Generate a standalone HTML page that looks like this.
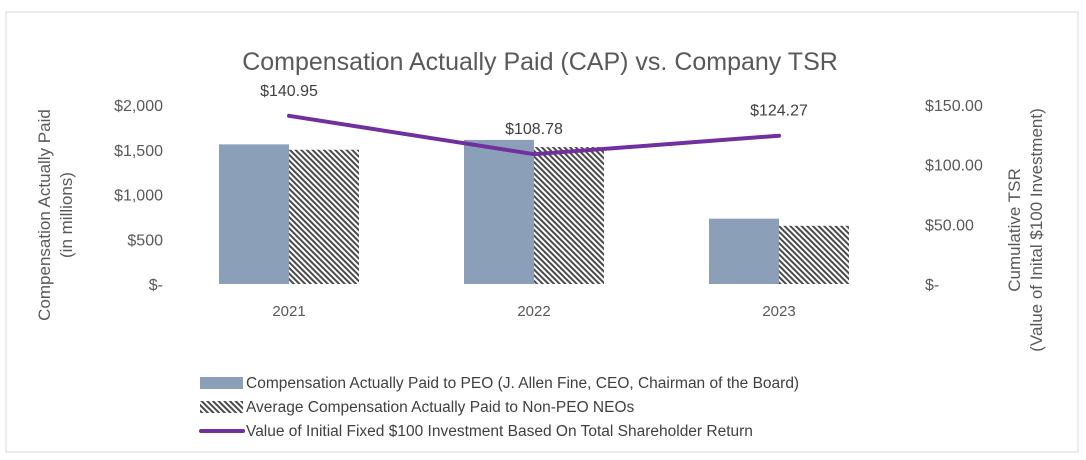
<!DOCTYPE html>
<html><head><meta charset="utf-8"><style>
body{margin:0;background:#fff;}
svg{display:block;font-family:"Liberation Sans",sans-serif;}
</style></head><body>
<svg width="1086" height="460" viewBox="0 0 1086 460">
<defs>
<pattern id="hatch" patternUnits="userSpaceOnUse" width="4" height="4" patternTransform="rotate(45)">
<rect width="4" height="4" fill="#fff"/><rect width="4" height="2" fill="#4a4a4a"/>
</pattern>
</defs>
<rect x="6" y="12" width="1072" height="440" fill="#fff" stroke="#d9d9d9"/>
<text x="540" y="70" text-anchor="middle" font-size="25" fill="#595959">Compensation Actually Paid (CAP) vs. Company TSR</text>
<g id="axes"></g>
<g id="bars"></g>
<g id="line"></g>
<text transform="translate(50,215) rotate(-90)" text-anchor="middle" font-size="17" fill="#595959"><tspan x="0" dy="0">Compensation Actually Paid</tspan><tspan x="0" dy="22">(in millions)</tspan></text>
<text transform="translate(1020,230) rotate(-90)" text-anchor="middle" font-size="17" fill="#595959"><tspan x="0" dy="0">Cumulative TSR</tspan><tspan x="0" dy="22">(Value of Inital $100 Investment)</tspan></text>
<g font-size="15.5" fill="#404040">
<rect x="200" y="377" width="43" height="12" fill="#8c9fb8"/>
<text x="246" y="388">Compensation Actually Paid to PEO (J. Allen Fine, CEO, Chairman of the Board)</text>
<rect x="200" y="401" width="43" height="12" fill="url(#hatch)"/>
<text x="246" y="412">Average Compensation Actually Paid to Non-PEO NEOs</text>
<line x1="201" y1="431" x2="243" y2="431" stroke="#7030a0" stroke-width="4" stroke-linecap="round"/>
<text x="246" y="436">Value of Initial Fixed $100 Investment Based On Total Shareholder Return</text>
</g>
</svg>
<script>
const categories=["2021","2022","2023"];
const peoValues=[1560,1610,730];
const nonPeoValues=[1500,1530,650];
const tsrValues=[140.95,108.78,124.27];
const tsrLabels=["$140.95","$108.78","$124.27"];
const leftTicks=[0,500,1000,1500,2000];
const leftTickLabels=["$-","$500","$1,000","$1,500","$2,000"];
const rightTicks=[0,50,100,150];
const rightTickLabels=["$-","$50.00","$100.00","$150.00"];

const NS="http://www.w3.org/2000/svg";
const y0=284,yTop=105,xL=166.5,xR=901.5;
const yL=v=>y0-(v/2000)*(y0-yTop);
const yR=v=>y0-(v/150)*(y0-yTop);
const band=(xR-xL)/categories.length;
const xC=i=>xL+band*(i+0.5);
const bw=70;
function mk(tag,attrs,parent,text){const e=document.createElementNS(NS,tag);for(const k in attrs)e.setAttribute(k,attrs[k]);if(text!==undefined)e.textContent=text;parent.appendChild(e);return e;}
const axes=document.getElementById('axes'),bars=document.getElementById('bars'),line=document.getElementById('line');
leftTicks.forEach((t,i)=>{const e=mk('text',{x:163,y:yL(t)+6,'text-anchor':'end','font-size':16,fill:'#595959'},axes,leftTickLabels[i]);

});
rightTicks.forEach((t,i)=>{const e=mk('text',{x:925,y:yR(t)+6,'font-size':16,fill:'#595959'},axes,rightTickLabels[i]);

});
categories.forEach((c,i)=>{const e=mk('text',{x:xC(i),y:316,'text-anchor':'middle','font-size':15,fill:'#595959'},axes,c);


const b1=mk('rect',{x:xC(i)-bw,y:yL(peoValues[i]),width:bw,height:y0-yL(peoValues[i]),fill:'#8c9fb8'},bars);


const b2=mk('rect',{x:xC(i),y:yL(nonPeoValues[i]),width:bw,height:y0-yL(nonPeoValues[i]),fill:'url(#hatch)'},bars);

});
const pts=tsrValues.map((v,i)=>xC(i)+','+yR(v)).join(' ');
const pl=mk('polyline',{points:pts,fill:'none',stroke:'#7030a0','stroke-width':4,'stroke-linejoin':'round','stroke-linecap':'round'},line);


tsrValues.forEach((v,i)=>{const e=mk('text',{x:xC(i),y:yR(v)-20,'text-anchor':'middle','font-size':16,fill:'#404040'},line,tsrLabels[i]);

});
</script>
</body></html>
